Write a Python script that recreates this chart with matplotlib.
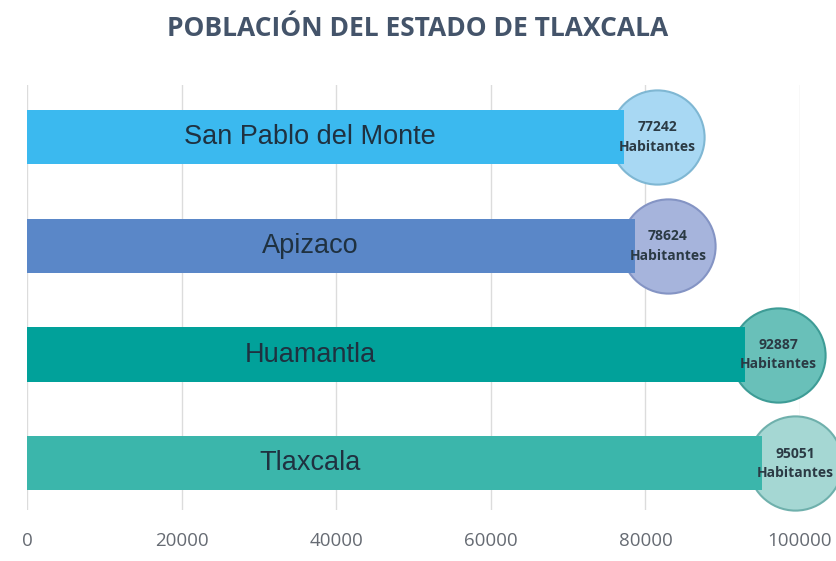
import matplotlib.pyplot as plt

# Datos
municipios = ['San Pablo del Monte', 'Apizaco', 'Huamantla', 'Tlaxcala']
habitantes = [77242, 78624, 92887, 95051]
colores_barra = ['#3BB9EF', '#5A87C8', '#01A19A', '#3BB6AB']
colores_circulo = ['#A8D8F3', '#A6B4DC', '#69C0B9', '#A5D7D3']
bordes_circulo = ['#7FB7D3', '#8494C4', '#3E9C96', '#6FB0AC']
ticks = [0, 20000, 40000, 60000, 80000, 100000]


def plot_poblacion():
    fig = plt.figure(figsize=(8.36, 5.61), dpi=100)
    ax = fig.add_axes([27 / 836, 51 / 561, 773 / 836, 425 / 561])

    y = range(len(municipios))
    ax.barh(y, habitantes, height=0.5, color=colores_barra, zorder=3)

    # Circulos con la etiqueta de valor
    for i, v in enumerate(habitantes):
        ax.scatter(v + 4300, i, s=4600, color=colores_circulo[i],
                   edgecolors=bordes_circulo[i], linewidths=1.5,
                   zorder=2, clip_on=False)
        ax.text(v + 4300, i, f'{v}\nHabitantes', ha='center', va='center',
                fontsize=10, color='#2B3A44', family='Open Sans',
                fontweight='bold', linespacing=1.5, zorder=4)
        ax.text(36600, i, municipios[i], ha='center', va='center',
                fontsize=19.5, color='#1F3140', family='Liberation Sans',
                zorder=4)

    ax.set_xlim(0, 100000)
    ax.set_ylim(3.43, -0.48)
    ax.set_xticks(ticks)
    ax.set_xticklabels([str(t) for t in ticks], fontsize=13.5,
                       color='#666B73', family='Open Sans')
    ax.set_yticks([])
    ax.tick_params(axis='x', length=0, pad=16)
    ax.grid(axis='x', color='#DCDCDC', linewidth=1, zorder=0)
    for s in ax.spines.values():
        s.set_visible(False)

    fig.text(0.5, 1 - 29 / 561, 'POBLACIÓN DEL ESTADO DE TLAXCALA',
             ha='center', va='center', fontsize=19, fontweight='bold',
             color='#44546A', family='Open Sans')

    plt.savefig('out.png', dpi=100)
    plt.close()


if __name__ == '__main__':
    plot_poblacion()
